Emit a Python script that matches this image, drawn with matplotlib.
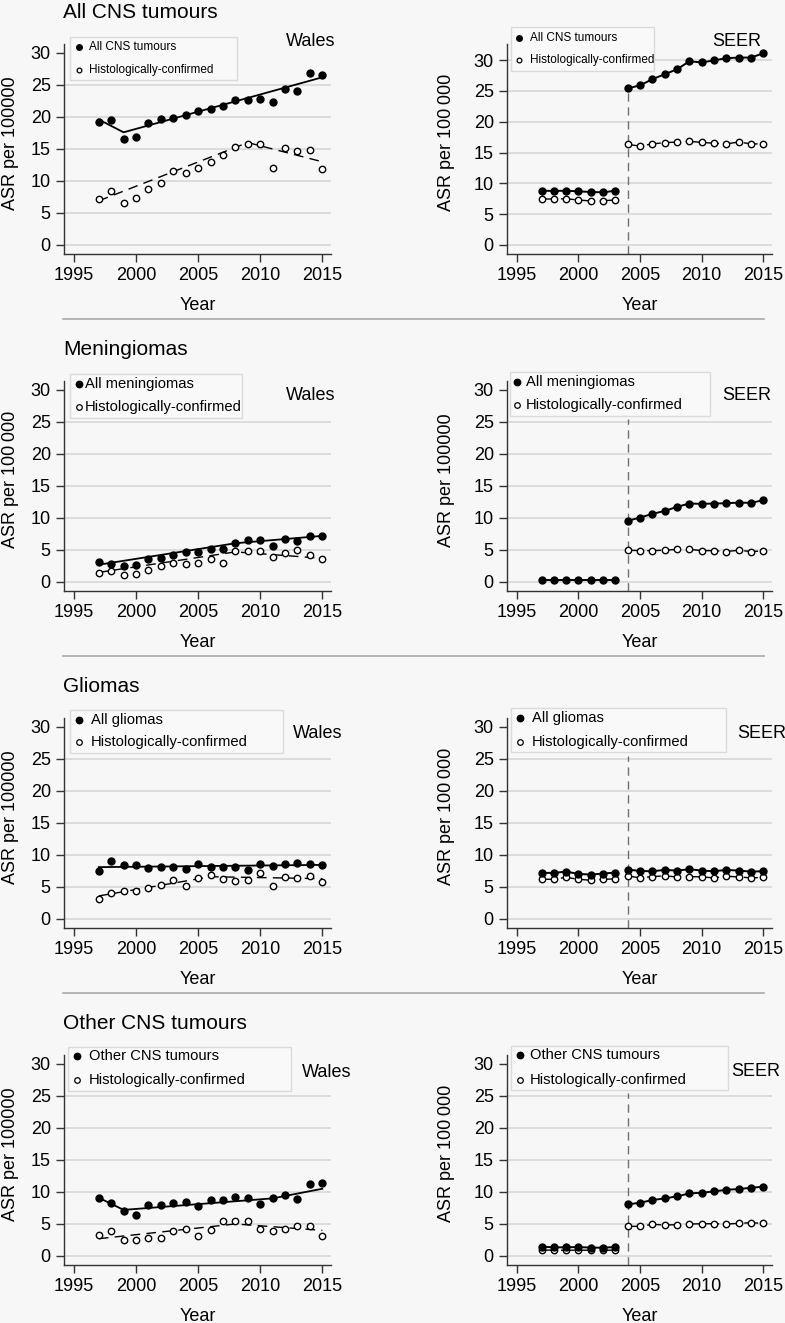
import numpy as np
import matplotlib.pyplot as plt
from matplotlib.patches import Rectangle
from matplotlib.lines import Line2D

plt.rcParams['font.family'] = ['Liberation Sans', 'DejaVu Sans']

years = np.arange(1997, 2016)
seer_early = np.arange(1997, 2004)
seer_late = np.arange(2004, 2016)
seer_break = 2004
seer_break_top = 25.5

titles = ['All CNS tumours', 'Meningiomas', 'Gliomas', 'Other CNS tumours']
legend_main = ['All CNS tumours', 'All meningiomas', 'All gliomas', 'Other CNS tumours']
legend_hist = 'Histologically-confirmed'
ylabel_wales = ['ASR per 100000', 'ASR per 100\u2009000', 'ASR per 100000', 'ASR per 100000']
ylabel_seer = ['ASR per 100\u2009000', 'ASR per 100000', 'ASR per 100\u2009000', 'ASR per 100\u2009000']

# Wales observed rates
wales_all_cns = [19.25, 19.46, 16.54, 16.8, 19.04, 19.72, 19.87, 20.29, 20.87, 21.23,
                 21.65, 22.64, 22.64, 22.8, 22.33, 24.41, 24.05, 26.92, 26.5]
wales_all_cns_hist = [7.15, 8.5, 6.52, 7.3, 8.76, 9.7, 11.63, 11.22, 12.0, 12.99,
                      14.08, 15.23, 15.75, 15.7, 12.1, 15.13, 14.76, 14.87, 11.84]
wales_men = [3.13, 2.76, 2.5, 2.71, 3.65, 3.76, 4.23, 4.7, 4.75, 5.22,
             5.11, 6.1, 6.57, 6.57, 5.69, 6.73, 6.42, 7.2, 7.25]
wales_men_hist = [1.41, 1.77, 1.04, 1.3, 1.88, 2.5, 2.92, 2.82, 3.03, 3.6,
                  2.97, 4.8, 4.85, 4.8, 3.96, 4.49, 4.96, 4.17, 3.6]
wales_gli = [7.56, 9.02, 8.4, 8.45, 7.98, 8.09, 8.19, 7.82, 8.55, 8.19,
             8.09, 8.19, 7.67, 8.66, 8.35, 8.55, 8.82, 8.66, 8.5]
wales_gli_hist = [3.08, 4.07, 4.33, 4.33, 4.8, 5.37, 6.1, 5.16, 6.36, 6.89,
                  6.21, 5.95, 6.16, 7.15, 5.11, 6.63, 6.42, 6.78, 5.74]
wales_oth = [9.1, 8.32, 6.97, 6.34, 7.9, 8.0, 8.27, 8.37, 7.8, 8.68,
             8.68, 9.15, 9.05, 8.06, 9.05, 9.46, 8.94, 11.18, 11.34]
wales_oth_hist = [3.22, 3.85, 2.5, 2.44, 2.8, 2.8, 3.9, 4.16, 3.12, 4.1,
                  5.51, 5.4, 5.46, 4.21, 3.9, 4.26, 4.68, 4.73, 3.12]

# Wales joinpoint fits
fit_all_cns_x = [1997, 1999, 2015]
fit_all_cns_y = [19.6, 17.6, 26.2]
fit_all_cns_hist_x = [1997, 2009, 2015]
fit_all_cns_hist_y = [6.9, 16.0, 13.0]
fit_men_x = [1997, 2008, 2015]
fit_men_y = [2.7, 6.05, 7.2]
fit_men_hist_x = [1997, 2008, 2015]
fit_men_hist_y = [1.5, 4.7, 3.7]
fit_gli_x = [1997, 2015]
fit_gli_y = [8.1, 8.45]
fit_gli_hist_x = [1997, 2006, 2015]
fit_gli_hist_y = [3.6, 6.6, 6.3]
fit_oth_x = [1997, 1999, 2011, 2015]
fit_oth_y = [9.1, 7.2, 9.0, 10.5]
fit_oth_hist_x = [1997, 2008, 2015]
fit_oth_hist_y = [2.7, 5.0, 4.0]

# SEER rates (before / after 2004)
seer_all_cns_a = [8.81, 8.76, 8.81, 8.7, 8.6, 8.54, 8.81]
seer_all_cns_b = [25.4, 25.9, 26.9, 27.7, 28.5, 29.8, 29.6, 29.95, 30.3, 30.4, 30.4, 31.1]
seer_all_cns_hist_a = [7.46, 7.46, 7.5, 7.3, 7.14, 7.19, 7.3]
seer_all_cns_hist_b = [16.3, 16.05, 16.4, 16.6, 16.7, 16.8, 16.65, 16.5, 16.4, 16.7, 16.4, 16.4]
seer_men_a = [0.25, 0.25, 0.25, 0.25, 0.25, 0.25, 0.25]
seer_men_b = [9.55, 10.07, 10.64, 11.1, 11.74, 12.26, 12.2, 12.26, 12.3, 12.4, 12.36, 12.78]
seer_men_hist_a = []
seer_men_hist_b = [4.96, 4.9, 4.9, 4.96, 5.1, 5.1, 4.9, 4.9, 4.75, 4.96, 4.75, 4.85]
seer_gli_a = [7.2, 7.2, 7.4, 7.04, 6.94, 7.1, 7.25]
seer_gli_b = [7.72, 7.5, 7.46, 7.67, 7.56, 7.77, 7.56, 7.46, 7.67, 7.56, 7.4, 7.46]
seer_gli_hist_a = [6.2, 6.2, 6.5, 6.2, 6.05, 6.2, 6.26]
seer_gli_hist_b = [6.73, 6.42, 6.63, 6.73, 6.57, 6.63, 6.57, 6.42, 6.68, 6.57, 6.42, 6.5]
seer_oth_a = [1.46, 1.35, 1.35, 1.4, 1.3, 1.3, 1.4]
seer_oth_b = [8.06, 8.32, 8.74, 9.0, 9.31, 9.78, 9.88, 10.09, 10.35, 10.45, 10.66, 10.82]
seer_oth_hist_a = [0.94, 0.9, 0.9, 0.9, 0.9, 0.9, 0.9]
seer_oth_hist_b = [4.63, 4.63, 4.94, 4.84, 4.89, 4.99, 5.04, 5.04, 4.99, 5.1, 5.2, 5.1]

wales_obs = [(wales_all_cns, wales_all_cns_hist), (wales_men, wales_men_hist),
             (wales_gli, wales_gli_hist), (wales_oth, wales_oth_hist)]
wales_fit = [(fit_all_cns_x, fit_all_cns_y, fit_all_cns_hist_x, fit_all_cns_hist_y),
             (fit_men_x, fit_men_y, fit_men_hist_x, fit_men_hist_y),
             (fit_gli_x, fit_gli_y, fit_gli_hist_x, fit_gli_hist_y),
             (fit_oth_x, fit_oth_y, fit_oth_hist_x, fit_oth_hist_y)]
seer_obs = [(seer_all_cns_a, seer_all_cns_b, seer_all_cns_hist_a, seer_all_cns_hist_b),
            (seer_men_a, seer_men_b, seer_men_hist_a, seer_men_hist_b),
            (seer_gli_a, seer_gli_b, seer_gli_hist_a, seer_gli_hist_b),
            (seer_oth_a, seer_oth_b, seer_oth_hist_a, seer_oth_hist_b)]

# layout (pixels, y relative to the row)
W, H = 785, 1323
ROW = 337
BG = '#f7f7f7'
wales_legend = [((70, 37, 237, 80), 79, 89, (47, 70), 8.5),
                ((70, 37, 242, 81), 79, 85, (47, 70), 10.6),
                ((70, 36, 283, 79), 79, 91, (46, 68), 10.6),
                ((68, 36, 291, 80), 77, 89, (45, 69), 10.6)]
seer_legend = [((511, 27, 654, 71), 519, 530, (38, 60), 8.5),
               ((510, 35, 710, 79), 517, 526, (45, 68), 10.6),
               ((511, 34, 726, 78), 520, 532, (44, 68), 10.6),
               ((511, 35, 728, 79), 520, 530, (44, 69), 10.6)]
wales_tag = [(335, 45.5), (335, 63), (342, 64), (351, 66)]
seer_tag = [(761, 46), (771, 63), (786, 64), (780, 65)]

fig = plt.figure(figsize=(W / 100, H / 100), dpi=100, facecolor=BG)


def fxy(x, y):
    return x / W, 1 - y / H


def style(ax, ylim, ylabel, ylab_x):
    ax.set_facecolor(BG)
    ax.set_xlim(1994.2, 2015.7)
    ax.set_ylim(*ylim)
    ax.set_xticks([1995, 2000, 2005, 2010, 2015])
    ax.set_yticks(range(0, 31, 5))
    for s in ['top', 'right']:
        ax.spines[s].set_visible(False)
    for s in ['left', 'bottom']:
        ax.spines[s].set_color('#333333')
        ax.spines[s].set_linewidth(1)
    ax.tick_params(labelsize=13, length=6, width=1, color='#333333', pad=3.5)
    ax.grid(axis='y', color='#dadada', lw=1.3)
    ax.set_axisbelow(True)
    if ylim[1] < 32:
        ax.get_ygridlines()[-1].set_visible(False)
    ax.text(ylab_x, 0.53, ylabel, rotation=90, transform=ax.transAxes,
            ha='center', va='center', fontsize=13)
    ax.text(0.5, -0.245, 'Year', transform=ax.transAxes, ha='center',
            va='center', fontsize=13)


def legend(spec, label, dy):
    (x0, y0, x1, y1), mx, tx, ys, fs = spec
    fig.add_artist(Rectangle(fxy(x0, y1 + dy), (x1 - x0) / W, (y1 - y0) / H,
                             transform=fig.transFigure, fc='#f9f9f9',
                             ec='#dadada', lw=1, zorder=5))
    ms = 4.0 if fs < 9 else 4.6
    fig.add_artist(Line2D([mx / W], [1 - (ys[0] + dy) / H], transform=fig.transFigure,
                          marker='o', ms=ms, color='black', ls='none', zorder=6))
    fig.add_artist(Line2D([mx / W], [1 - (ys[1] + dy) / H], transform=fig.transFigure,
                          marker='o', ms=ms - 0.6, mfc='white', mec='black', mew=0.9,
                          ls='none', zorder=6))
    fig.text(*fxy(tx, ys[0] + dy), label, fontsize=fs, va='center', zorder=6)
    fig.text(*fxy(tx, ys[1] + dy), legend_hist, fontsize=fs, va='center', zorder=6)


hollow = dict(marker='o', ms=4.6, mfc='white', mec='black', mew=1, color='black')
dash_w = (0, (7, 4.5))
dash_s = (0, (10, 4))

for r in range(4):
    dy = r * ROW
    bottom = 1 - (254 + dy) / H
    hgt = 210 / H

    # Wales
    ax = fig.add_axes([64 / W, bottom, 267 / W, hgt])
    style(ax, (-1.41, 31.4), ylabel_wales[r], -0.202)
    obs_all, obs_hist = wales_obs[r]
    fx_a, fy_a, fx_h, fy_h = wales_fit[r]
    ax.plot(fx_a, fy_a, color='black', lw=1.3, zorder=3)
    ax.plot(fx_h, fy_h, color='black', lw=1.0, ls=dash_w, zorder=3)
    ax.plot(years, obs_hist, ls='none', zorder=4, **hollow)
    ax.plot(years, obs_all, 'o', ms=5.0, color='black', zorder=4)

    # SEER
    ax2 = fig.add_axes([507 / W, bottom, 265 / W, hgt])
    ylim = (-1.46, 32.6) if r == 0 else (-1.41, 31.4)
    style(ax2, ylim, ylabel_seer[r], -0.228)
    a_early, a_late, h_early, h_late = seer_obs[r]
    ax2.vlines(seer_break, ylim[0], seer_break_top, colors='#707070',
               linestyles=(0, (6, 4)), lw=1, zorder=2)
    for xs, vals in [(seer_early, h_early), (seer_late, h_late)]:
        if len(vals):
            ax2.plot(xs, vals, ls=dash_s, lw=1.0, zorder=3, **hollow)
    for xs, vals in [(seer_early, a_early), (seer_late, a_late)]:
        ax2.plot(xs, vals, '-o', ms=5.0, lw=1.4, color='black', zorder=4)

    # titles, tags, legends
    fig.text(*fxy(63, 18 + dy), titles[r], fontsize=15, va='baseline')
    fig.text(*fxy(wales_tag[r][0], wales_tag[r][1] + dy), 'Wales', fontsize=13,
             ha='right', va='baseline')
    fig.text(*fxy(seer_tag[r][0], seer_tag[r][1] + dy), 'SEER', fontsize=13,
             ha='right', va='baseline')
    legend(wales_legend[r], legend_main[r], dy)
    legend(seer_legend[r], legend_main[r], dy)

    if r < 3:
        fig.add_artist(Line2D([63 / W, 764 / W], [1 - (319 + dy) / H] * 2,
                              transform=fig.transFigure, color='#a8a8a8', lw=1.2))

fig.savefig('out.png', dpi=100, facecolor=BG)
